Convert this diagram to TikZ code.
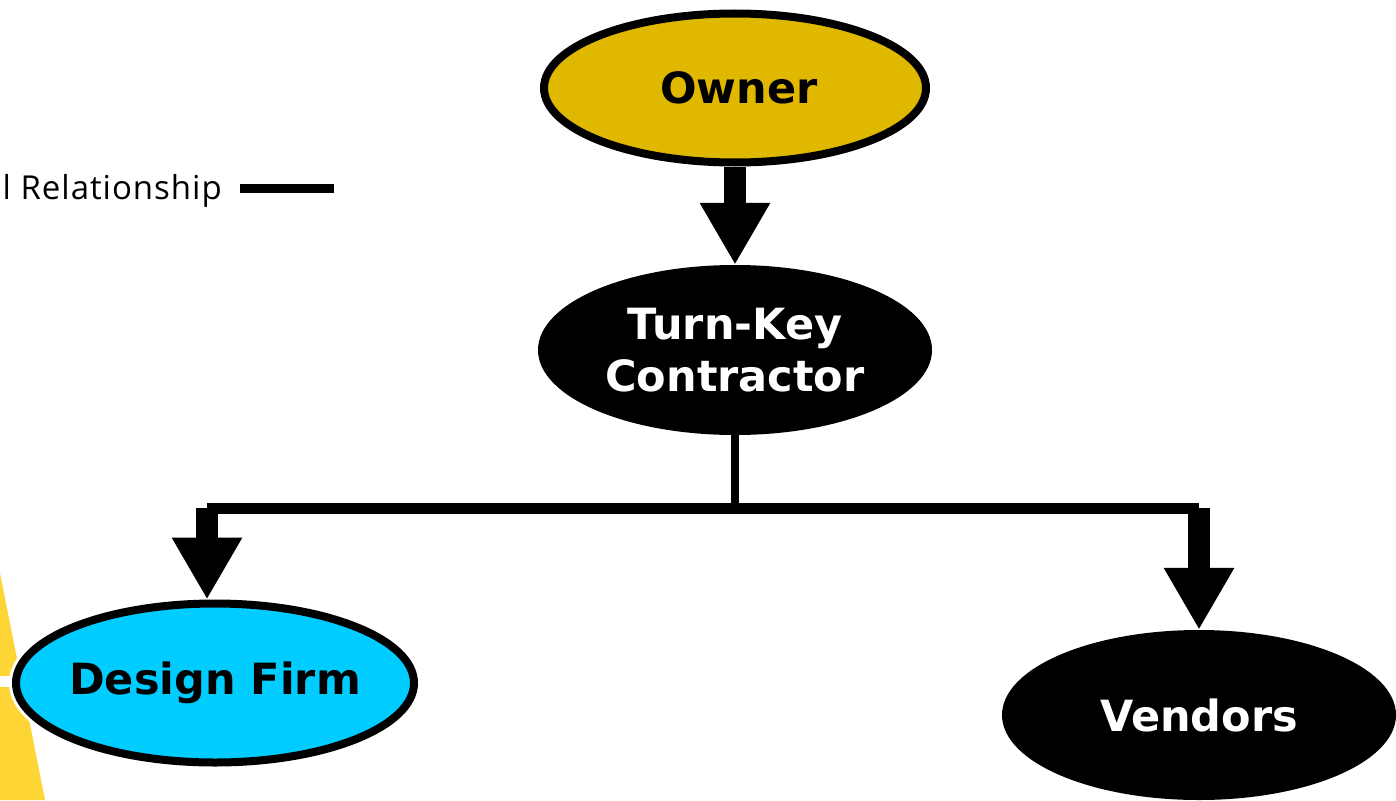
\documentclass[tikz,border=0pt]{standalone}
\usepackage{fontspec}
\setmainfont{DejaVu Sans}
\newfontfamily\legendfont[LetterSpace=3]{Open Sans}
\usetikzlibrary{shapes.geometric,arrows.meta}
\definecolor{ownergold}{RGB}{224,184,0}
\definecolor{firmcyan}{RGB}{0,204,255}
\definecolor{sideyellow}{RGB}{253,213,53}
\tikzset{
  oval/.style={ellipse, inner ysep=0pt, inner xsep=-40pt, align=center,
    font=\fontsize{43}{52}\selectfont\bfseries},
  ringoval/.style={oval, draw=black, line width=8pt},
  darkoval/.style={oval, fill=black, text=white},
  bigarrow/.style={line width=22pt, -{Triangle[width=66pt,length=62pt]}},
  joinline/.style={line width=11pt},
  stemline/.style={line width=8pt},
}
\begin{document}
\begin{tikzpicture}[x=1pt,y=-1pt]
\useasboundingbox (0,0) rectangle (1396,800);
% side decoration
\fill[sideyellow] (0,573) -- (45,800) -- (0,800) -- cycle;
% white stub at the left
\coordinate (stubL) at (0,681);
\coordinate (stubR) at (18,681);
\draw[white, line width=11pt] (stubL) -- (stubR);

% nodes
\node[ringoval, fill=ownergold, minimum width=382pt, minimum height=149pt] (owner) at (735,88) {\hspace*{8pt}Owner};
\node[darkoval, minimum width=394pt, minimum height=170pt] (tk) at (735,350) {Turn-Key\\Contractor};
\node[ringoval, fill=firmcyan, minimum width=398pt, minimum height=159pt,
      preaction={draw=white, line width=14pt}] (df) at (215,683) {Design Firm};
\node[darkoval, minimum width=394pt, minimum height=170pt] (vd) at (1199,715) {Vendors};

% legend
\node[anchor=base east, inner sep=0pt, font=\legendfont\fontsize{33}{38}\selectfont] (legtext) at (222,199) {l Relationship};
\coordinate (legA) at (240,188);
\coordinate (legB) at (334,188);
\draw[line width=9pt] (legA) -- (legB);

% connectors
\draw[bigarrow] (owner.south) -- (tk.north);
\coordinate (jm) at (735,508);
\coordinate (jl) at (207,508);
\coordinate (jr) at (1199,508);
\draw[stemline] (tk.south) -- (jm);
\draw[joinline] (jl) -- (jr);
\draw[bigarrow] (jl) -- (jl |- df.north);
\draw[bigarrow] (jr) -- (vd.north);
\end{tikzpicture}
\end{document}
